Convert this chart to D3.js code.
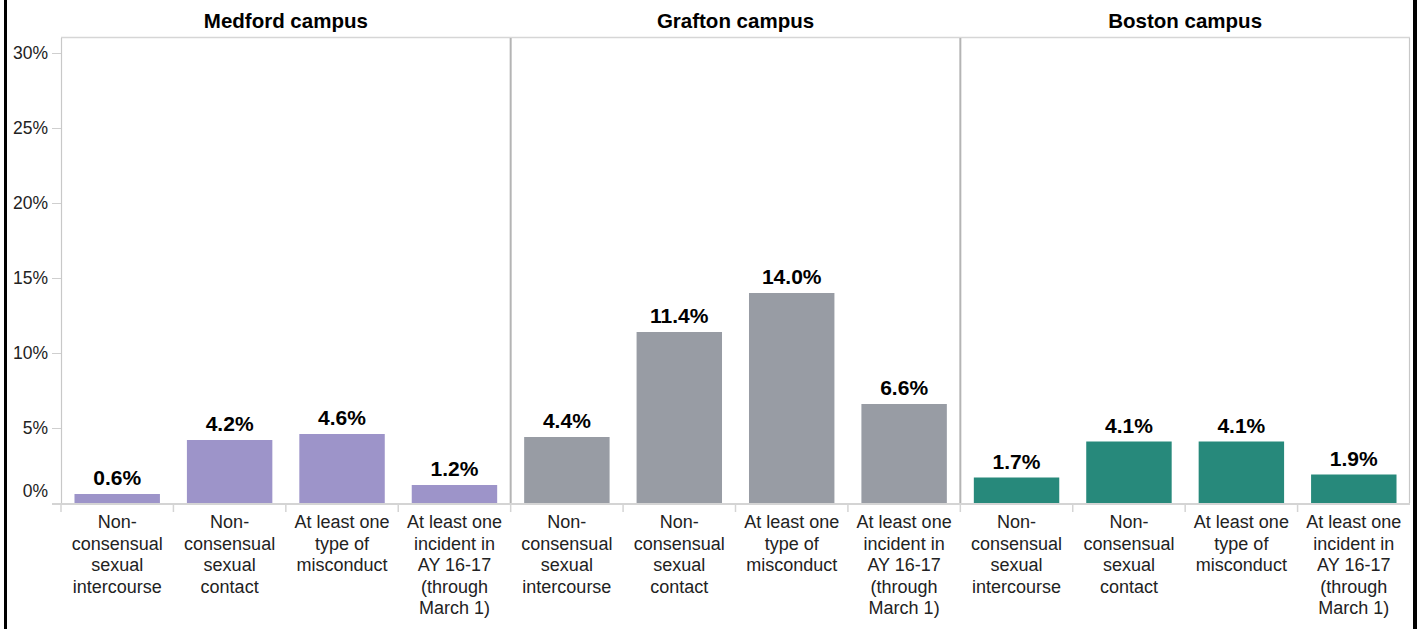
<!DOCTYPE html>
<html>
<head>
<meta charset="utf-8">
<script src="https://cdn.jsdelivr.net/npm/d3@7"></script>
<style>
  body { margin: 0; background: #fff; }
  text { font-family: "Liberation Sans", Arial, sans-serif; }
</style>
</head>
<body>
<div id="chart"></div>
<script>
var campuses = ["Medford campus", "Grafton campus", "Boston campus"];
var categories = [
  "Non-consensual sexual intercourse",
  "Non-consensual sexual contact",
  "At least one type of misconduct",
  "At least one incident in AY 16-17 (through March 1)"
];
var categoryLines = [
  ["Non-", "consensual", "sexual", "intercourse"],
  ["Non-", "consensual", "sexual", "contact"],
  ["At least one", "type of", "misconduct"],
  ["At least one", "incident in", "AY 16-17", "(through", "March 1)"]
];
var medfordValues = [0.6, 4.2, 4.6, 1.2];
var graftonValues = [4.4, 11.4, 14.0, 6.6];
var bostonValues = [1.7, 4.1, 4.1, 1.9];
var campusColors = ["#9d94c9", "#989ca4", "#27897b"];
var yTicks = [0, 5, 10, 15, 20, 25, 30];

var W = 1418, H = 629;
var margin = { top: 38, right: 8, bottom: 124, left: 61 };
var width = W - margin.left - margin.right,
  height = H - margin.top - margin.bottom;

var allValues = [medfordValues, graftonValues, bostonValues];

var svg = d3
  .select("#chart")
  .append("svg")
  .attr("width", W)
  .attr("height", H);

// outer black frame (sides only)
svg.append("rect").attr("x", 4).attr("y", 0).attr("width", 3).attr("height", H).attr("fill", "#000");
svg.append("rect").attr("x", 1413).attr("y", 0).attr("width", 4).attr("height", H).attr("fill", "#000");

var g = svg
  .append("g")
  .attr("transform", "translate(" + margin.left + "," + margin.top + ")");

// 30% sits 15px below plot top
var y = d3.scaleLinear().domain([0, 30]).range([height - 2, 15]);

var xPanel = d3.scaleBand().domain(campuses).range([0, width]);
var xCat = d3
  .scaleBand()
  .domain(categories)
  .range([0, xPanel.bandwidth()])
  .paddingInner(0.24)
  .paddingOuter(0.12);

// plot frame
g.append("line").attr("x1", 0).attr("x2", width).attr("y1", -0.5).attr("y2", -0.5)
  .attr("stroke", "#d6d6d6").attr("stroke-width", 1.5);
g.append("line").attr("x1", 0.5).attr("x2", 0.5).attr("y1", 0).attr("y2", y(0))
  .attr("stroke", "#c8c8c8").attr("stroke-width", 1.2);
g.append("line").attr("x1", width - 0.5).attr("x2", width - 0.5).attr("y1", 0).attr("y2", y(0))
  .attr("stroke", "#c8c8c8").attr("stroke-width", 1.2);

// panel dividers
campuses.slice(1).forEach(function (c) {
  g.append("line")
    .attr("x1", xPanel(c)).attr("x2", xPanel(c))
    .attr("y1", 0).attr("y2", y(0))
    .attr("stroke", "#b4b4b4").attr("stroke-width", 2);
});

// y axis
var yAxis = g.append("g")
  .call(d3.axisLeft(y).tickValues(yTicks).tickSize(9).tickPadding(4)
    .tickFormat(function (d) { return d + "%"; }));
yAxis.select(".domain").remove();
yAxis.selectAll(".tick line").attr("stroke", "#cfcfcf");
yAxis.selectAll(".tick text")
  .attr("fill", "#222")
  .style("font-size", "17.5px")
  .style("font-family", "'Liberation Sans', Arial, sans-serif");
yAxis.selectAll(".tick").filter(function (d) { return d === 0; })
  .select("text").attr("dy", "-0.35em");

// header titles
g.selectAll(".campus-title")
  .data(campuses)
  .enter()
  .append("text")
  .attr("class", "campus-title")
  .attr("x", function (d) { return xPanel(d) + xPanel.bandwidth() / 2; })
  .attr("y", -10)
  .attr("text-anchor", "middle")
  .style("font-size", "20.5px")
  .style("font-weight", "bold")
  .attr("fill", "#000")
  .text(function (d) { return d; });

var panels = g.selectAll(".panel")
  .data(campuses)
  .enter()
  .append("g")
  .attr("class", "panel")
  .attr("transform", function (d) { return "translate(" + xPanel(d) + ",0)"; });

panels.each(function (campus, ci) {
  var p = d3.select(this);
  var rows = categories.map(function (c, i) {
    return { cat: c, i: i, value: allValues[ci][i] };
  });

  p.selectAll("rect")
    .data(rows)
    .enter()
    .append("rect")
    .attr("x", function (d) { return xCat(d.cat); })
    .attr("y", function (d) { return y(d.value); })
    .attr("width", xCat.bandwidth())
    .attr("height", function (d) { return y(0) - y(d.value); })
    .attr("fill", campusColors[ci]);

  p.selectAll(".value-label")
    .data(rows)
    .enter()
    .append("text")
    .attr("class", "value-label")
    .attr("x", function (d) { return xCat(d.cat) + xCat.bandwidth() / 2; })
    .attr("y", function (d) { return y(d.value) - 9; })
    .attr("text-anchor", "middle")
    .style("font-size", "21px")
    .style("font-weight", "bold")
    .attr("fill", "#000")
    .text(function (d) { return d.value.toFixed(1) + "%"; });

  // category boundary ticks
  var step = xCat.step();
  var bounds = [0].concat(categories.map(function (c) { return xCat(c) - xCat.paddingInner() * step / 2 + step; }));
  p.selectAll(".cat-tick")
    .data(bounds.slice(0, 4))
    .enter()
    .append("line")
    .attr("class", "cat-tick")
    .attr("x1", function (d) { return d; })
    .attr("x2", function (d) { return d; })
    .attr("y1", y(0))
    .attr("y2", y(0) + 9)
    .attr("stroke", "#d4d4d4")
    .attr("stroke-width", 1.5);

  var labels = p.selectAll(".cat-label")
    .data(rows)
    .enter()
    .append("text")
    .attr("class", "cat-label")
    .attr("text-anchor", "middle")
    .attr("fill", "#222")
    .style("font-size", "18px");
  labels.selectAll("tspan")
    .data(function (d) {
      return categoryLines[d.i].map(function (l) { return { line: l, cat: d.cat }; });
    })
    .enter()
    .append("tspan")
    .attr("x", function (d) { return xCat(d.cat) + xCat.bandwidth() / 2; })
    .attr("y", function (d, j) { return y(0) + 25 + j * 21.5; })
    .text(function (d) { return d.line; });
});

// baseline
g.append("line")
  .attr("x1", -9).attr("x2", width)
  .attr("y1", y(0) + 1).attr("y2", y(0) + 1)
  .attr("stroke", "#d4d4d4").attr("stroke-width", 2);
</script>
</body>
</html>
